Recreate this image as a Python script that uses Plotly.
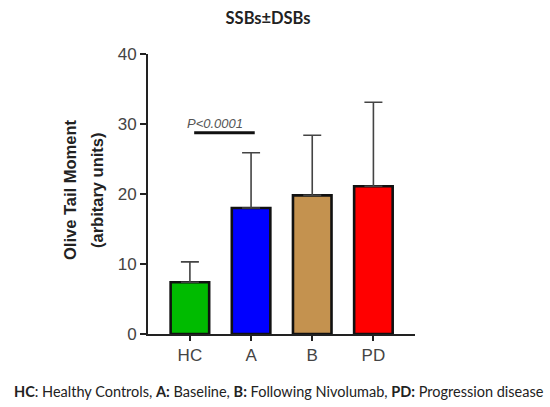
import plotly.graph_objects as go

categories = ["HC", "A", "B", "PD"]
means = [7.4, 18.0, 19.8, 21.1]
upper = [10.3, 25.9, 28.4, 33.1]
colors = ["#00BB00", "#0000FF", "#C4924F", "#FF0000"]
y_ticks = [0, 10, 20, 30, 40]
sig_label = "P<0.0001"
sig_y = 28.75

err_plus = [u - m for u, m in zip(upper, means)]
xs = list(range(len(categories)))

fig = go.Figure()
fig.add_trace(go.Bar(
    x=xs, y=means, width=0.63,
    marker=dict(color=colors, line=dict(color="#111111", width=2.6)),
    error_y=dict(type="data", symmetric=False, array=err_plus,
                 arrayminus=[0] * len(means), color="#444444",
                 thickness=1.6, width=9),
    showlegend=False,
))

L, R, T, B = 148, 135, 54, 73
W, H = 550, 407
pw = W - L - R
ph = H - T - B

def px2paper(px, py):
    return (px - L) / pw, (H - B - py) / ph

fig.update_layout(
    width=W, height=H,
    margin=dict(l=L, r=R, t=T, b=B),
    plot_bgcolor="white", paper_bgcolor="white",
    title=dict(text="<b>SSBs±DSBs</b>", x=268 / W, xanchor="center", y=1 - 18 / H,
               yanchor="middle", font=dict(family="Lato", size=16.5, color="#222222")),
)

fig.add_shape(type="line", xref="x", yref="y", x0=0.07, x1=1.06,
              y0=sig_y, y1=sig_y, line=dict(color="#111111", width=3))
fig.add_annotation(x=0.41, y=30.1, xref="x", yref="y", text="<i>" + sig_label + "</i>",
                   showarrow=False, font=dict(family="Liberation Sans, Arial", size=13, color="#555555"))
ax, ay = px2paper(70, 190)
fig.add_annotation(x=ax, y=ay, xref="paper", yref="paper", text="<b>Olive Tail Moment</b>",
                   showarrow=False, textangle=-90, xanchor="center", yanchor="middle",
                   font=dict(family="Liberation Sans, Arial", size=16.5, color="#222222"))
ax, ay = px2paper(97, 190)
fig.add_annotation(x=ax, y=ay, xref="paper", yref="paper", text="<b>(arbitary units)</b>",
                   showarrow=False, textangle=-90, xanchor="center", yanchor="middle",
                   font=dict(family="Liberation Sans, Arial", size=16.5, color="#222222"))
fx, fy = px2paper(279, 391)
fig.add_annotation(x=fx, y=fy, xref="paper", yref="paper",
                   text="<b>HC</b>: Healthy Controls, <b>A:</b> Baseline, <b>B:</b> Following Nivolumab, <b>PD:</b> Progression disease",
                   showarrow=False, xanchor="center", yanchor="middle",
                   font=dict(family="Lato", size=14.5, color="#222222"))

fig.update_xaxes(
    range=[-0.685, 3.68], tickmode="array", tickvals=xs, ticktext=categories,
    showline=True, linecolor="#222222", linewidth=2, ticks="outside", ticklen=5,
    tickwidth=2, tickcolor="#222222", showgrid=False, zeroline=False,
    tickfont=dict(family="Liberation Sans, Arial", size=17, color="#444444"),
)
fig.update_yaxes(
    range=[0, 40], tickmode="array", tickvals=y_ticks,
    showline=True, linecolor="#222222", linewidth=2, ticks="outside", ticklen=6,
    tickwidth=2, tickcolor="#222222", showgrid=False, zeroline=False,
    tickfont=dict(family="Liberation Sans, Arial", size=17, color="#444444"),
)

fig.write_html("out.html")
